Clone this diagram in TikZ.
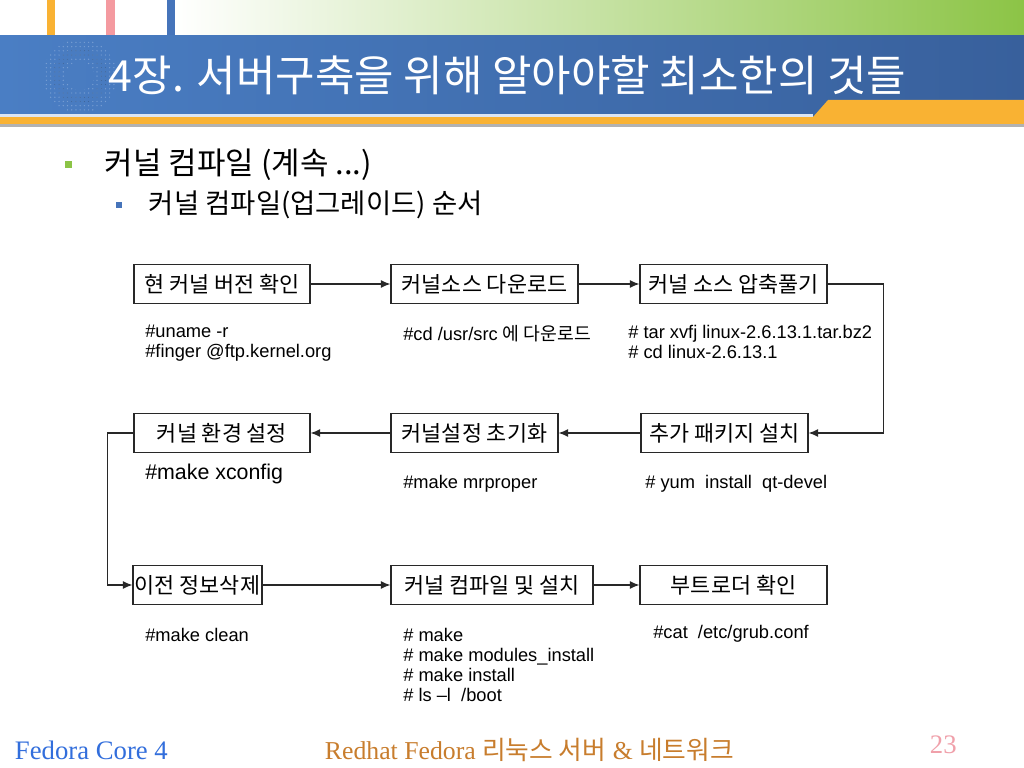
\documentclass[tikz,border=0pt]{standalone}
\usepackage{fontspec}
\usepackage{tikz}
\usetikzlibrary{patterns,arrows.meta}
\setmainfont{Liberation Sans}
\newfontfamily\krfont{Noto Sans CJK KR}
\newfontfamily\seriffont{Liberation Serif}
\definecolor{headblue}{RGB}{74,126,196}
\definecolor{headdark}{RGB}{56,96,156}
\definecolor{topgreen}{RGB}{140,196,70}
\definecolor{barorange}{RGB}{249,178,51}
\definecolor{barpink}{RGB}{244,154,160}
\definecolor{barblue}{RGB}{70,116,186}
\definecolor{footblue}{RGB}{50,110,220}
\definecolor{footbrown}{RGB}{200,125,45}
\definecolor{pagepink}{RGB}{240,160,170}
\definecolor{boxline}{RGB}{40,40,40}
\tikzset{
  stepbox/.style={draw=boxline, line width=0.8pt, rectangle, minimum height=0.975cm,
    inner xsep=1pt, font=\krfont\fontsize{15.5}{17}\selectfont},
  cmdnote/.style={anchor=north west, inner sep=0pt, align=left,
    font=\fontsize{13}{14.2}\selectfont},
  flow/.style={-{Latex[length=2.4mm,width=2mm]}, line width=0.8pt, boxline}
}

\begin{document}
\begin{tikzpicture}[x=0.025cm, y=-0.025cm]
    \useasboundingbox (0,0) rectangle (1024,768);
    % header
    \fill[white] (0,0) rectangle (1024,768);
    \shade[left color=white, right color=topgreen] (175,0) rectangle (1024,36);
    \fill[barorange] (47,0) rectangle (55,36);
    \fill[barpink] (106,0) rectangle (115,36);
    \fill[barblue] (167,0) rectangle (175,36);
    \shade[left color=headblue, right color=headdark] (0,36) rectangle (1024,117);
    \fill[pattern=dots, pattern color=white!25!headblue, even odd rule]
        (80,76) circle (37) (80,76) circle (14);
    \fill[pattern=dots, pattern color=black!20!headblue, even odd rule]
        (80,76) circle (28) (80,76) circle (20);
    \fill[white!80!headblue] (0,114) rectangle (813,117);
    \fill[barorange] (813,117) -- (828,100) -- (1024,100) -- (1024,117) -- cycle;
    \fill[barorange] (0,117) rectangle (1024,124);
    \fill[gray!60] (0,124) rectangle (1024,127);
    \node[anchor=west, text=white, font=\krfont\fontsize{30.5}{32}\selectfont] (title) at (104,75)
        {4장. 서버구축을 위해 알아야할 최소한의 것들};

    % bullets
    \fill[topgreen] (65,161) rectangle (72,168);
    \node[anchor=west, font=\krfont\fontsize{22}{24}\selectfont] (item1) at (100,165)
        {커널 컴파일 (계속 ...)};
    \fill[barblue] (116,202) rectangle (122,208);
    \node[anchor=west, font=\krfont\fontsize{19.5}{21}\selectfont] (item2) at (144,205)
        {커널 컴파일(업그레이드) 순서};

    % steps
    \node[stepbox, minimum width=4.4cm] (a1) at (222,284) {현 커널 버전 확인};
    \node[stepbox, minimum width=4.675cm] (a2) at (484.5,284) {커널소스 다운로드};
    \node[stepbox, minimum width=4.675cm] (a3) at (733.5,284) {커널 소스 압축풀기};
    \node[stepbox, minimum width=4.4cm] (b1) at (222,433) {커널 환경 설정};
    \node[stepbox, minimum width=4.175cm] (b2) at (474.5,433) {커널설정 초기화};
    \node[stepbox, minimum width=4.175cm] (b3) at (724.5,433) {추가 패키지 설치};
    \node[stepbox, minimum width=3.225cm] (c1) at (197.5,585) {이전 정보삭제};
    \node[stepbox, minimum width=5.05cm] (c2) at (492,585) {커널 컴파일 및 설치};
    \node[stepbox, minimum width=4.675cm] (c3) at (733.5,585) {부트로더 확인};

    \draw[flow] (a1) -- (a2);
    \draw[flow] (a2) -- (a3);
    \draw[flow] (a3.east) -- ++(56,0) |- (b3.east);
    \draw[flow] (b3) -- (b2);
    \draw[flow] (b2) -- (b1);
    \draw[flow] (b1.west) -- ++(-26,0) |- (c1.west);
    \draw[flow] (c1) -- (c2);
    \draw[flow] (c2) -- (c3);

    % commands
    \node[cmdnote] (n1) at (145,325) {\#uname -r\\\#finger @ftp.kernel.org};
    \node[cmdnote] (n2) at (403,325) {\#cd /usr/src {\krfont 에 다운로드}};
    \node[cmdnote] (n3) at (628,325) {\# tar xvfj linux-2.6.13.1.tar.bz2\\\# cd linux-2.6.13.1};
    \node[cmdnote, font=\fontsize{15.2}{17}\selectfont] (n4) at (145,464) {\#make xconfig};
    \node[cmdnote] (n5) at (403,475) {\#make mrproper};
    \node[cmdnote] (n6) at (645,475) {\# yum~~install~~qt-devel};
    \node[cmdnote] (n7) at (145,628) {\#make clean};
    \node[cmdnote] (n8) at (403,628)
        {\# make\\\# make modules\_install\\\# make install\\\# ls –l~~/boot};
    \node[cmdnote] (n9) at (653,625) {\#cat~~/etc/grub.conf};

    % footer
    \node[anchor=west, text=footblue, font=\seriffont\fontsize{19}{21}\selectfont] (foot1) at (10,750)
        {Fedora Core 4};
    \node[anchor=west, text=footbrown, font=\seriffont\fontsize{18.3}{20}\selectfont] (foot2) at (320,750)
        {Redhat Fedora {\krfont 리눅스 서버} \& {\krfont 네트워크}};
    \node[anchor=west, text=pagepink, font=\seriffont\fontsize{19}{21}\selectfont] (page) at (925,745)
        {23};
\end{tikzpicture}
\end{document}
